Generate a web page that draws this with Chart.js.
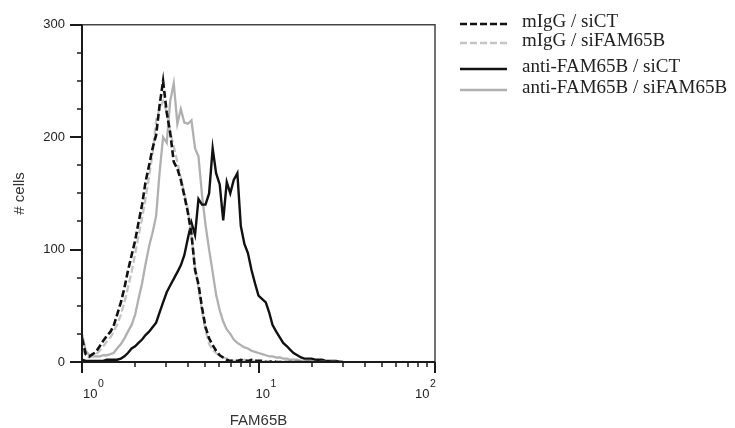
<!DOCTYPE html>
<html>
<head>
<meta charset="utf-8">
<script src="https://cdn.jsdelivr.net/npm/chart.js@4.4.1/dist/chart.umd.min.js"></script>
<style>
    html, body { margin: 0; padding: 0; background: #fff; }
</style>
</head>
<body>
<canvas id="grafica_facs" width="735" height="428"></canvas>
<script>
// FAM65B intensity (bin positions on the log axis)
var fam65b = [
    1.00, 1.05, 1.10, 1.15, 1.20, 1.26, 1.32, 1.38, 1.45, 1.51,
    1.58, 1.66, 1.74, 1.82, 1.91, 2.00, 2.09, 2.19, 2.29, 2.40,
    2.51, 2.63, 2.75, 2.88, 3.02, 3.16, 3.31, 3.47, 3.63, 3.80,
    3.98, 4.17, 4.37, 4.57, 4.79, 5.01, 5.25, 5.50, 5.75, 6.03,
    6.31, 6.61, 6.92, 7.24, 7.59, 7.94, 8.32, 8.71, 9.12, 9.55,
    10.0, 10.5, 11.0, 11.5, 12.0, 12.6, 13.2, 13.8, 14.5, 15.1,
    15.8, 16.6, 17.4, 18.2, 19.1, 20.0, 20.9, 21.9, 22.9, 24.0,
    25.1, 26.3, 27.5, 28.8, 30.2
];

// # cells per bin
var mIgGsiCT = [
    21, 7, 5, 7, 9, 14, 19, 23, 27, 32,
    42, 53, 66, 81, 95, 108, 124, 140, 160, 175,
    190, 202, 228, 250, 222, 204, 178, 172, 162, 148,
    133, 114, 82, 69, 48, 31, 21, 15, 10, 6,
    4, 2, 1, 1, 1, 2, 1, 1, 2, 1,
    1, 1, 0, 0, 1, 0, 0, 0, 0, 0,
    0, 0, 0, 0, 0, 0, 0, 0, 0, 0,
    0, 0, 0, 0, 0
];
var mIgGsiFAM = [
    12, 6, 4, 5, 7, 10, 14, 18, 22, 27,
    33, 42, 53, 66, 80, 96, 112, 128, 145, 165,
    185, 215, 225, 232, 222, 205, 192, 178, 164, 150,
    136, 112, 84, 66, 45, 28, 16, 11, 8, 5,
    4, 3, 2, 1, 1, 1, 2, 1, 1, 1,
    1, 0, 1, 0, 0, 0, 0, 0, 0, 0,
    0, 0, 0, 0, 0, 0, 0, 0, 0, 0,
    0, 0, 0, 0, 0
];
var antiSiCT = [
    2, 1, 1, 1, 1, 1, 1, 2, 2, 2,
    2, 3, 5, 8, 12, 14, 17, 20, 24, 27,
    31, 35, 44, 53, 62, 68, 74, 80, 86, 95,
    110, 124, 113, 145, 140, 140, 150, 190, 168, 158,
    126, 160, 150, 162, 168, 121, 105, 97, 82, 70,
    59, 56, 53, 44, 33, 27, 22, 17, 14, 11,
    8, 6, 4, 3, 3, 3, 2, 2, 2, 1,
    1, 1, 1, 0, 0
];
var antiSiFAM = [
    25, 10, 6, 5, 5, 5, 6, 6, 7, 8,
    12, 16, 21, 27, 33, 42, 56, 70, 87, 103,
    115, 130, 168, 200, 195, 232, 248, 212, 225, 213,
    212, 215, 190, 183, 148, 122, 100, 80, 60, 46,
    36, 29, 25, 20, 17, 15, 13, 12, 10, 9,
    8, 7, 6, 5, 5, 4, 4, 3, 3, 2,
    2, 2, 1, 1, 1, 1, 0, 0, 0, 0,
    0, 0, 0, 0, 0
];

var seriesLabels = ['mIgG / siCT', 'mIgG / siFAM65B', 'anti-FAM65B / siCT', 'anti-FAM65B / siFAM65B'];
var yTicks = [0, 100, 200, 300];
var xTicks = [1, 10, 100];
var xTickExp = ['0', '1', '2'];

function toPoints(values) {
    var pts = [];
    for (var i = 0; i < fam65b.length; i++) {
        pts.push({ x: fam65b[i], y: values[i] });
    }
    return pts;
}

function lineDataSet(label, values, color, width, dash) {
    return {
        label: label,
        data: toPoints(values),
        borderColor: color,
        borderWidth: width,
        borderDash: dash,
        pointRadius: 0,
        tension: 0,
        fill: false
    };
}

// Frame, tick marks and the 10^n labels of the x axis.
var axisFrame = {
    id: 'axisFrame',
    afterDraw: function (chart) {
        var ctx = chart.ctx;
        var a = chart.chartArea;
        var xs = chart.scales.x;
        var ys = chart.scales.y;
        ctx.save();

        // top and right of the box
        ctx.strokeStyle = '#444';
        ctx.lineWidth = 1.5;
        ctx.beginPath();
        ctx.moveTo(a.left, a.top);
        ctx.lineTo(a.right, a.top);
        ctx.lineTo(a.right, a.bottom);
        ctx.stroke();

        // left and bottom axes
        ctx.strokeStyle = '#1a1a1a';
        ctx.lineWidth = 2;
        ctx.beginPath();
        ctx.moveTo(a.left, a.top);
        ctx.lineTo(a.left, a.bottom);
        ctx.lineTo(a.right, a.bottom);
        ctx.stroke();

        // y ticks: major every 100, minor every 25
        for (var v = 0; v <= 300; v += 25) {
            var py = Math.round(ys.getPixelForValue(v));
            var len = (v % 100 === 0) ? 12 : 5;
            ctx.lineWidth = (v % 100 === 0) ? 2 : 1.5;
            ctx.beginPath();
            ctx.moveTo(a.left - len, py);
            ctx.lineTo(a.left, py);
            ctx.stroke();
        }

        // x ticks: decades and 2..9 in between
        for (var d = 1; d <= 100; d *= 10) {
            var top = (d === 100) ? 1 : 9;
            for (var m = 1; m <= top; m++) {
                var px = Math.round(xs.getPixelForValue(m * d));
                var l = (m === 1) ? 11 : 5;
                ctx.lineWidth = (m === 1) ? 2 : 1.5;
                ctx.beginPath();
                ctx.moveTo(px, a.bottom);
                ctx.lineTo(px, a.bottom + l);
                ctx.stroke();
            }
        }

        // x tick labels with superscript
        var shift = [1, -3, -20];
        ctx.fillStyle = '#222';
        ctx.textBaseline = 'alphabetic';
        ctx.textAlign = 'left';
        for (var i = 0; i < xTicks.length; i++) {
            var x0 = xs.getPixelForValue(xTicks[i]) + shift[i];
            ctx.font = '13px "Liberation Sans", Arial, sans-serif';
            ctx.fillText('10', x0, a.bottom + 36);
            var w = ctx.measureText('10').width;
            ctx.font = '10.5px "Liberation Sans", Arial, sans-serif';
            ctx.fillText(xTickExp[i], x0 + w + 0.5, a.bottom + 25);
        }
        ctx.restore();
    }
};

// Legend to the right of the plot.
var sideLegend = {
    id: 'sideLegend',
    afterDraw: function (chart) {
        var ctx = chart.ctx;
        var rows = [24, 43, 69, 90];
        ctx.save();
        for (var i = 0; i < chart.data.datasets.length; i++) {
            var ds = chart.data.datasets[i];
            ctx.strokeStyle = ds.borderColor;
            ctx.lineWidth = ds.borderWidth;
            ctx.setLineDash(ds.borderDash || []);
            ctx.beginPath();
            ctx.moveTo(460, rows[i]);
            ctx.lineTo(507, rows[i]);
            ctx.stroke();
            ctx.setLineDash([]);
            ctx.fillStyle = '#222';
            ctx.font = '19px "Liberation Serif", "Times New Roman", serif';
            ctx.textBaseline = 'alphabetic';
            ctx.fillText(ds.label, 522, rows[i] + 3);
        }
        ctx.restore();
    }
};

var context = document.getElementById('grafica_facs').getContext('2d');
var datasets = [
    lineDataSet(seriesLabels[0], mIgGsiCT, '#111', 2.6, [7, 3]),
    lineDataSet(seriesLabels[1], mIgGsiFAM, '#c4c4c4', 2.3, [7, 3]),
    lineDataSet(seriesLabels[2], antiSiCT, '#111', 2.4, []),
    lineDataSet(seriesLabels[3], antiSiFAM, '#b0b0b0', 2.3, [])
];

var chart = new Chart(context, {
    type: 'line',
    data: { datasets: datasets },
    plugins: [axisFrame, sideLegend],
    options: {
        responsive: false,
        animation: false,
        layout: { padding: { left: 0, top: 12, right: 300, bottom: 0 } },
        plugins: {
            legend: { display: false },
            tooltip: { enabled: false }
        },
        scales: {
            x: {
                type: 'logarithmic',
                min: 1,
                max: 100,
                grid: { display: false },
                border: { display: false },
                ticks: { display: false },
                title: {
                    display: true,
                    text: 'FAM65B',
                    color: '#333',
                    font: { family: '"Liberation Sans", Arial, sans-serif', size: 15, lineHeight: 1 },
                    padding: { top: 0, bottom: 0 }
                },
                afterFit: function (scale) { scale.height = 66; }
            },
            y: {
                type: 'linear',
                min: 0,
                max: 300,
                grid: { display: false, drawTicks: false },
                border: { display: false },
                afterBuildTicks: function (scale) {
                    scale.ticks = yTicks.map(function (v) { return { value: v }; });
                },
                ticks: {
                    padding: 17,
                    color: '#222',
                    font: { family: '"Liberation Sans", Arial, sans-serif', size: 13 }
                },
                title: {
                    display: true,
                    text: '# cells',
                    color: '#333',
                    font: { family: '"Liberation Sans", Arial, sans-serif', size: 15 },
                    padding: { top: 11, bottom: 0 }
                },
                afterFit: function (scale) { scale.width = 82; }
            }
        }
    }
});
</script>
</body>
</html>
